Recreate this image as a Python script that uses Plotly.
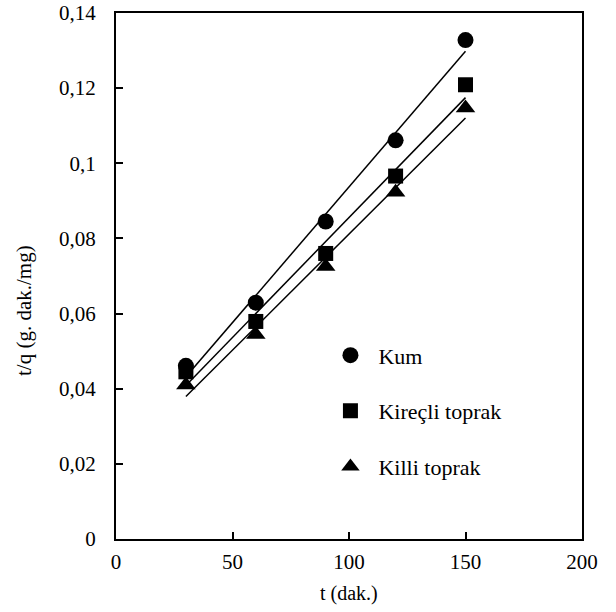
import numpy as np
import plotly.graph_objects as go

t = [30, 60, 90, 120, 150]
kum = [0.0461, 0.0629, 0.0845, 0.1061, 0.1328]
kirecli = [0.0445, 0.0579, 0.0760, 0.0966, 0.1209]
killi = [0.0410, 0.0544, 0.0725, 0.0923, 0.1147]
names = ["Kum", "Kireçli toprak", "Killi toprak"]
symbols = ["circle", "square", "triangle-up"]
sizes = [16, 15, 17]
x_title = "t (dak.)"
y_title = "t/q (g. dak./mg)"

series = [kum, kirecli, killi]
FONT = "Liberation Serif, Times New Roman, serif"

fig = go.Figure()
for i, (ys, nm, sym, sz) in enumerate(zip(series, names, symbols, sizes)):
    fig.add_trace(go.Scatter(
        x=t, y=ys, mode="markers", name=nm, legendgroup=str(i),
        marker=dict(symbol=sym, color="black", size=sz, line=dict(width=0)),
    ))
for ys in series:
    m, b = np.polyfit(t, ys, 1)
    xs = np.array([t[0], t[-1]])
    fig.add_trace(go.Scatter(
        x=xs, y=m * xs + b, mode="lines", showlegend=False,
        line=dict(color="black", width=1.5), hoverinfo="skip",
    ))

fig.update_layout(
    width=616, height=612,
    margin=dict(l=116, r=34, t=13, b=73),
    paper_bgcolor="white", plot_bgcolor="white",
    separators=",.",
    font=dict(family=FONT, size=21, color="black"),
    legend=dict(x=0.443, y=0.389, xanchor="left", yanchor="top",
                traceorder="grouped", tracegroupgap=24, itemwidth=46,
                font=dict(family=FONT, size=22), bgcolor="rgba(0,0,0,0)",
                itemsizing="trace"),
    xaxis=dict(range=[0, 200], dtick=50, tick0=0, showgrid=False, zeroline=False,
               showline=True, linecolor="black", linewidth=2, mirror=True,
               ticks="inside", ticklen=7, tickwidth=1.5, tickcolor="black",
               ticklabelstandoff=3, automargin=False),
    yaxis=dict(range=[0, 0.14], dtick=0.02, tick0=0, showgrid=False, zeroline=False,
               showline=True, linecolor="black", linewidth=2, mirror=True,
               ticks="inside", ticklen=7, tickwidth=1.5, tickcolor="black",
               ticklabelstandoff=14, automargin=False),
    annotations=[
        dict(text=x_title, xref="paper", yref="paper", x=0.5, y=-0.1027,
             xanchor="center", yanchor="middle", showarrow=False,
             font=dict(family=FONT, size=20)),
        dict(text=y_title, xref="paper", yref="paper", x=-0.1974, y=0.4335,
             xanchor="center", yanchor="middle", showarrow=False, textangle=-90,
             font=dict(family=FONT, size=21)),
    ],
)

fig.write_html("out.html")
